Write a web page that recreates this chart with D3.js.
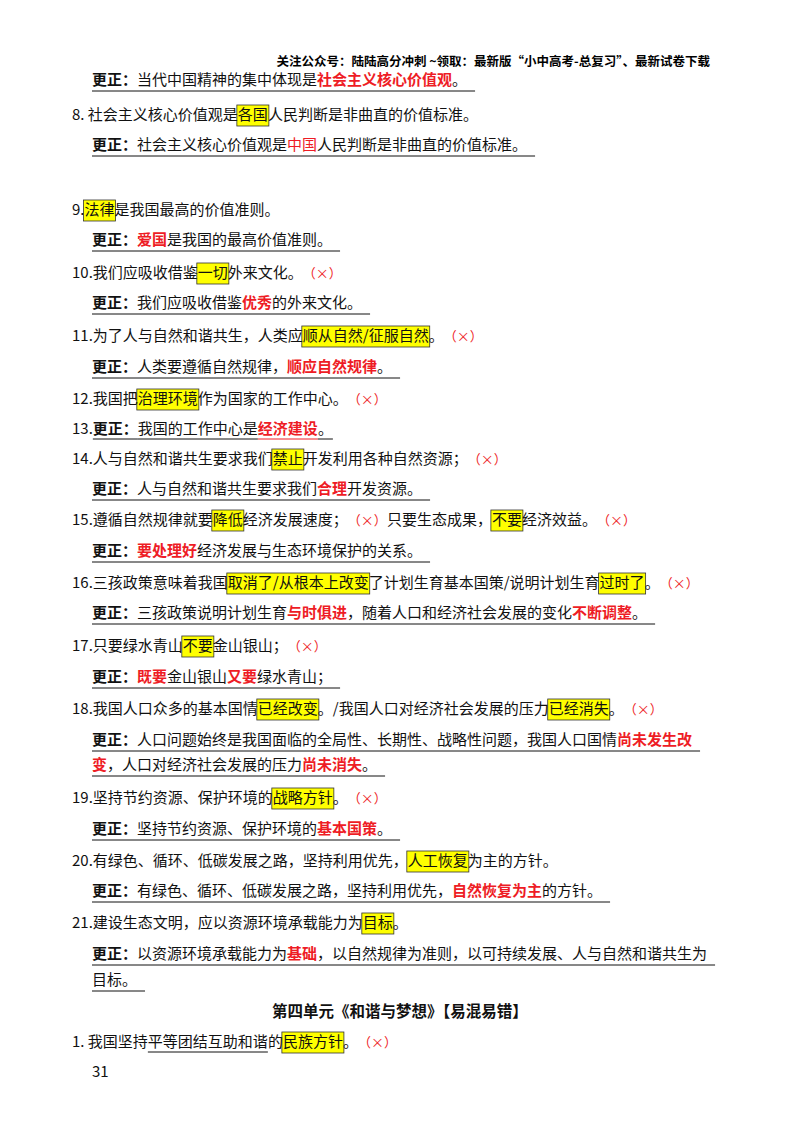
<!DOCTYPE html>
<html><head><meta charset="utf-8">
<script src="https://cdn.jsdelivr.net/npm/d3@7"></script>
<style>body{margin:0;background:#fff}</style></head>
<body><svg id="c" width="800" height="1132"></svg>
<script>
const header = "关注公众号：陆陆高分冲刺  ~领取：最新版“小中高考-总复习”、最新试卷下载";
const X = "（×）";
// segment codes: n normal, h highlight, r red bold, q red plain, b bold, x red mark, u underlined
const rows = [
 {k:"fix", s:[["b","更正："],["n","当代中国精神的集中体现是"],["r","社会主义核心价值观"],["n","。"]]},
 {k:"item", s:[["n","8. 社会主义核心价值观是"],["h","各国"],["n","人民判断是非曲直的价值标准。"]]},
 {k:"fix", s:[["b","更正："],["n","社会主义核心价值观是"],["q","中国"],["n","人民判断是非曲直的价值标准。"]]},
 {k:"item", s:[["n","9. "],["h","法律"],["n","是我国最高的价值准则。"]]},
 {k:"fix", s:[["b","更正："],["r","爱国"],["n","是我国的最高价值准则。"]]},
 {k:"item", s:[["n","10.我们应吸收借鉴"],["h","一切"],["n","外来文化。"],["x",X]]},
 {k:"fix", s:[["b","更正："],["n","我们应吸收借鉴"],["r","优秀"],["n","的外来文化。"]]},
 {k:"item", s:[["n","11.为了人与自然和谐共生，人类应"],["h","顺从自然/征服自然"],["n","。"],["x",X]]},
 {k:"fix", s:[["b","更正："],["n","人类要遵循自然规律，"],["r","顺应自然规律"],["n","。"]]},
 {k:"item", s:[["n","12.我国把"],["h","治理环境"],["n","作为国家的工作中心。"],["x",X]]},
 {k:"item", s:[["n","13."],["bu","更正："],["u","我国的工作中心是"],["ru","经济建设"],["u","。"]]},
 {k:"item", s:[["n","14.人与自然和谐共生要求我们"],["h","禁止"],["n","开发利用各种自然资源；"],["x",X]]},
 {k:"fix", s:[["b","更正："],["n","人与自然和谐共生要求我们"],["r","合理"],["n","开发资源。"]]},
 {k:"item", s:[["n","15.遵循自然规律就要"],["h","降低"],["n","经济发展速度；"],["x",X],["n","只要生态成果，"],["h","不要"],["n","经济效益。"],["x",X]]},
 {k:"fix", s:[["b","更正："],["r","要处理好"],["n","经济发展与生态环境保护的关系。"]]},
 {k:"item", s:[["n","16.三孩政策意味着我国"],["h","取消了/从根本上改变"],["n","了计划生育基本国策/说明计划生育"],["h","过时了"],["n","。"],["x",X]]},
 {k:"fix", s:[["b","更正："],["n","三孩政策说明计划生育"],["r","与时俱进"],["n","，随着人口和经济社会发展的变化"],["r","不断调整"],["n","。"]]},
 {k:"item", s:[["n","17.只要绿水青山"],["h","不要"],["n","金山银山；"],["x",X]]},
 {k:"fix", s:[["b","更正："],["r","既要"],["n","金山银山"],["r","又要"],["n","绿水青山；"]]},
 {k:"item", s:[["n","18.我国人口众多的基本国情"],["h","已经改变"],["n","。/我国人口对经济社会发展的压力"],["h","已经消失"],["n","。"],["x",X]]},
 {k:"fix", s:[["b","更正："],["n","人口问题始终是我国面临的全局性、长期性、战略性问题，我国人口国情"],["r","尚未发生改"]]},
 {k:"fix2", s:[["r","变"],["n","，人口对经济社会发展的压力"],["r","尚未消失"],["n","。"]]},
 {k:"item", s:[["n","19.坚持节约资源、保护环境的"],["h","战略方针"],["n","。"],["x",X]]},
 {k:"fix", s:[["b","更正："],["n","坚持节约资源、保护环境的"],["r","基本国策"],["n","。"]]},
 {k:"item", s:[["n","20.有绿色、循环、低碳发展之路，坚持利用优先，"],["h","人工恢复"],["n","为主的方针。"]]},
 {k:"fix", s:[["b","更正："],["n","有绿色、循环、低碳发展之路，坚持利用优先，"],["r","自然恢复为主"],["n","的方针。"]]},
 {k:"item", s:[["n","21.建设生态文明，应以资源环境承载能力为"],["h","目标"],["n","。"]]},
 {k:"fix", s:[["b","更正："],["n","以资源环境承载能力为"],["r","基础"],["n","，以自然规律为准则，以可持续发展、人与自然和谐共生为"]]},
 {k:"fix2", s:[["n","目标。"]]},
 {k:"head", s:[["b","第四单元《和谐与梦想》【易混易错】"]]},
 {k:"item", s:[["n","1. 我国坚持"],["u","平等团结互助和谐"],["n","的"],["h","民族方针"],["n","。"],["x",X]]},
 {k:"page", s:[["n","31"]]}
];
const rowY = [80,115,145,210,240,273,303,336,367,399,429,459,489,520,551,583,613,646,677,709,740,765,798,829,861,891,923,954,980,1012,1042,1072];

const svg = d3.select("#c");
const font = "'Noto Sans CJK SC','Noto Sans',sans-serif";
svg.append("text").attr("x",710).attr("y",66).attr("text-anchor","end")
  .attr("font-family",font).attr("font-size",12.5).attr("font-weight","bold").text(header);

rows.forEach((r,i)=>{
  const y = rowY[i];
  const g = svg.append("g");
  let x = r.k==="fix"||r.k==="fix2"||r.k==="page" ? 92 : 72;
  const fs = r.k==="head"?15.5:15;
  const start = x;
  const items = [];
  r.s.forEach(([c,t])=>{
    const red = c[0]==="r"||c==="q"||c==="x";
    const bold = c[0]==="b"||c[0]==="r";
    const el = g.append("text").attr("x",x).attr("y",y+5)
      .attr("font-family",font).attr("font-size",c==="x"?13:fs)
      .attr("font-weight",bold?"bold":"normal")
      .attr("fill",red?"#ee1c25":"#111").text(t);
    const w = el.node().getComputedTextLength();
    if(c==="h"){
      g.insert("rect","text").attr("x",x-1).attr("y",y-10).attr("width",w+2).attr("height",21)
        .attr("fill","#ffff00").attr("stroke","#333").attr("stroke-width",0.8);
    }
    if(c.endsWith("u")&&c!=="n"){
      g.append("line").attr("x1",x).attr("x2",x+w).attr("y1",y+10).attr("y2",y+10)
        .attr("stroke",red?"#ee1c25":"#111").attr("stroke-width",1);
    }
    x += w;
  });
  if(r.k==="head"){
    const w = x-start;
    g.attr("transform",`translate(${(400-w/2)-start},0)`);
  }
  if(r.k==="fix"||r.k==="fix2"){
    g.append("line").attr("x1",start).attr("x2",x+8).attr("y1",y+11).attr("y2",y+11)
      .attr("stroke","#111").attr("stroke-width",1);
  }
});
</script></body></html>
